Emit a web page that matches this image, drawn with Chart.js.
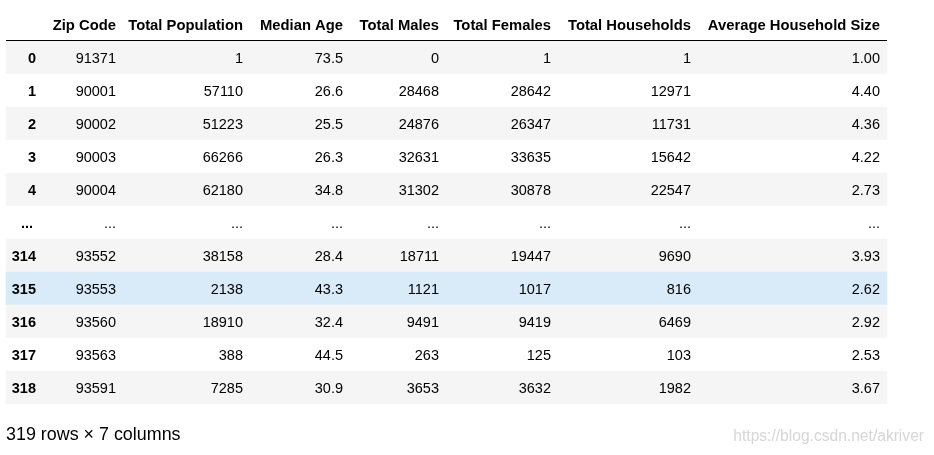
<!DOCTYPE html>
<html>
<head>
<meta charset="utf-8">
<script src="https://cdn.jsdelivr.net/npm/chart.js@4"></script>
<style>
  html, body { margin: 0; padding: 0; background: #fff; }
  canvas { display: block; }
</style>
</head>
<body>
<canvas id="myChart" width="934" height="455"></canvas>
<script>
// table data, null = the "..." row
const rowLabels = ['0', '1', '2', '3', '4', '...', '314', '315', '316', '317', '318'];
const columns = ['Zip Code', 'Total Population', 'Median Age', 'Total Males', 'Total Females', 'Total Households', 'Average Household Size'];
const zipCode = [91371, 90001, 90002, 90003, 90004, null, 93552, 93553, 93560, 93563, 93591];
const totalPopulation = [1, 57110, 51223, 66266, 62180, null, 38158, 2138, 18910, 388, 7285];
const medianAge = [73.5, 26.6, 25.5, 26.3, 34.8, null, 28.4, 43.3, 32.4, 44.5, 30.9];
const totalMales = [0, 28468, 24876, 32631, 31302, null, 18711, 1121, 9491, 263, 3653];
const totalFemales = [1, 28642, 26347, 33635, 30878, null, 19447, 1017, 9419, 125, 3632];
const totalHouseholds = [1, 12971, 11731, 15642, 22547, null, 9690, 816, 6469, 103, 1982];
const avgHouseholdSize = [1.00, 4.40, 4.36, 4.22, 2.73, null, 3.93, 2.62, 2.92, 2.53, 3.67];
const footer = '319 rows \u00d7 7 columns';
const watermark = 'https://blog.csdn.net/akriver';

const series = [zipCode, totalPopulation, medianAge, totalMales, totalFemales, totalHouseholds, avgHouseholdSize];
const decimals = [0, 0, 1, 0, 0, 0, 2];

// layout (pixels)
const tableLeft = 6, tableRight = 887;
const indexRight = 36;
const colRight = [116, 243, 343, 439, 551, 691, 880];
const FONT = '"Liberation Sans", Arial, sans-serif';
const hoverRow = 7;

const rowColors = rowLabels.map((l, i) => i === hoverRow ? '#d9ebf9' : (i % 2 === 0 ? '#f5f5f5' : '#ffffff'));

const tableText = {
  id: 'tableText',
  afterDatasetsDraw(chart) {
    const ctx = chart.ctx;
    const y = chart.scales.y;
    const x = chart.scales.x;
    const px = v => x.getPixelForValue(v);
    ctx.save();
    ctx.fillStyle = '#000';
    ctx.textAlign = 'right';
    ctx.textBaseline = 'alphabetic';

    // header
    ctx.font = 'bold 14.8px ' + FONT;
    columns.forEach((c, j) => ctx.fillText(c, px(colRight[j]), 29.5));
    ctx.fillRect(px(tableLeft), 40, px(tableRight) - px(tableLeft), 1);

    rowLabels.forEach((lab, i) => {
      const cy = y.getPixelForValue(i) + 5.5;
      ctx.font = 'bold 14.5px ' + FONT;
      ctx.fillText(lab, px(lab === '...' ? indexRight - 3 : indexRight), cy);
      ctx.font = '14.5px ' + FONT;
      series.forEach((s, j) => {
        const v = s[i];
        const t = v === null ? '...' : v.toFixed(decimals[j]);
        ctx.fillText(t, px(colRight[j]), cy);
      });
    });

    ctx.textAlign = 'left';
    ctx.font = '17.9px ' + FONT;
    ctx.fillText(footer, 6, 440);
    ctx.textAlign = 'right';
    ctx.font = '15.6px ' + FONT;
    ctx.fillStyle = '#d6d6d6';
    ctx.fillText(watermark, 924, 441);
    ctx.restore();
  }
};

const data = {
  labels: rowLabels,
  datasets: [{
    label: 'rows',
    data: rowLabels.map(() => [tableLeft, tableRight]),
    backgroundColor: rowColors,
    borderWidth: 0,
    barPercentage: 1,
    categoryPercentage: 1
  }]
};

const config = {
  type: 'bar',
  data: data,
  options: {
    indexAxis: 'y',
    responsive: false,
    animation: false,
    events: [],
    layout: { padding: { left: 0, right: 0, top: 41, bottom: 51 } },
    plugins: { legend: { display: false }, tooltip: { enabled: false } },
    scales: {
      x: { type: 'linear', min: 0, max: 934, display: false },
      y: { type: 'category', display: false }
    }
  },
  plugins: [tableText]
};

const myChart = new Chart(document.getElementById('myChart'), config);
</script>
</body>
</html>
